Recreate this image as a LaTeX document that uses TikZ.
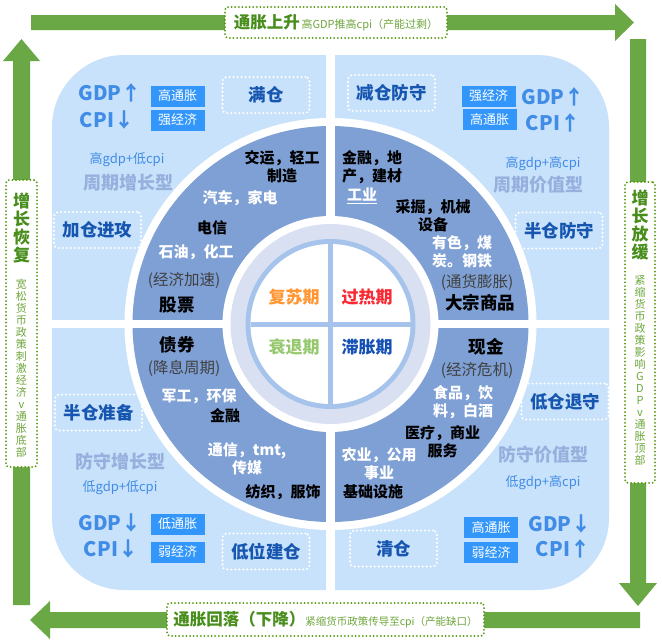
\documentclass[tikz,border=0pt]{standalone}
\usepackage{fontspec}
\setmainfont{Noto Sans CJK SC}
\usetikzlibrary{positioning}
\definecolor{panel}{RGB}{201,226,251}
\definecolor{ring}{RGB}{127,160,213}
\definecolor{lav}{RGB}{216,224,242}
\definecolor{rim}{RGB}{166,196,235}
\definecolor{arrowgreen}{RGB}{106,168,69}
\definecolor{dotgreen}{RGB}{84,150,10}
\definecolor{labgreen}{RGB}{72,142,28}
\definecolor{subgreen}{RGB}{110,166,60}
\definecolor{tagblue}{RGB}{51,150,250}
\definecolor{gdpblue}{RGB}{64,140,230}
\definecolor{posblue}{RGB}{22,86,176}
\definecolor{styleblue}{RGB}{150,176,222}
\definecolor{recov}{RGB}{255,150,50}
\definecolor{overheat}{RGB}{250,40,50}
\definecolor{recess}{RGB}{150,200,110}
\definecolor{stagf}{RGB}{20,80,180}

\begin{document}
\begin{tikzpicture}[x=1pt,y=-1pt,
    dotbox/.style={draw=white,line width=2.4pt,dash pattern=on 0pt off 4pt,line cap=round,
        rounded corners=4pt,minimum width=87,minimum height=36,inner sep=0pt,
        font=\fontsize{17.5}{18}\selectfont\bfseries,text=posblue},
    greenbox/.style={draw=dotgreen,fill=white,line width=2pt,dash pattern=on 0pt off 3.6pt,
        line cap=round,rounded corners=3pt,inner sep=0pt},
    tag/.style={fill=tagblue,text=white,minimum width=54,minimum height=21,inner sep=0pt,
        font=\fontsize{13}{14}\selectfont},
    gdp/.style={text=gdpblue,font=\fontsize{20}{21}\selectfont\bfseries,inner sep=0pt},
    kind/.style={text=styleblue,font=\fontsize{18}{19}\selectfont\bfseries,inner sep=0pt},
    mix/.style={text=gdpblue,font=\fontsize{13}{14}\selectfont,inner sep=0pt},
    sect/.style={font=\fontsize{15}{18}\selectfont\bfseries,inner sep=0pt},
    dk/.style={sect,text=black},
    wt/.style={sect,text=white},
    note/.style={font=\fontsize{15.5}{17}\selectfont,text=black!75,inner sep=0pt},
    asset/.style={font=\fontsize{17.5}{19}\selectfont\bfseries,text=black,inner sep=0pt},
    phase/.style={font=\fontsize{17}{18}\selectfont\bfseries,inner sep=0pt},
    bigv/.style={align=center,inner sep=0pt,text=labgreen,font=\fontsize{17}{18}\selectfont\bfseries},
    smallv/.style={align=center,inner sep=0pt,text=subgreen,font=\fontsize{11}{12}\selectfont}]
\useasboundingbox (0,0) rectangle (662,643);

% Cycle arrows
\fill[arrowgreen] (31,15) -- (615,15) -- (615,4) -- (634,22.5) -- (615,41) -- (615,30) -- (31,30) -- cycle;
\fill[arrowgreen] (630,39) -- (646,39) -- (646,583) -- (657,583) -- (638,606) -- (619,583) -- (630,583) -- cycle;
\fill[arrowgreen] (640,612) -- (640,628) -- (50,628) -- (50,639) -- (30,620) -- (50,601) -- (50,612) -- cycle;
\fill[arrowgreen] (13,605) -- (30,605) -- (30,61) -- (40,61) -- (21.5,39) -- (3,61) -- (13,61) -- cycle;

% Panel and rings
\coordinate (o) at (330.5,324);
\fill[panel,rounded corners=72pt] (52,55) rectangle (609,590);
\fill[white] (o) circle[radius=206];
\fill[ring] (o) circle[radius=198];
\fill[white] (326,50) rectangle (335,600);
\fill[white] (45,320) rectangle (615,328);
\fill[white] (o) circle[radius=108];
\fill[lav] (o) circle[radius=100];
\fill[rim] (o) circle[radius=85];
\fill[white] (o) circle[radius=80];
\draw[rim,line width=5pt] (330.5,244) -- (330.5,404);
\draw[rim,line width=5pt] (250.5,324) -- (410.5,324);

% Phases
\node[phase,text=recov] (recovery) at (294,297) {复苏期};
\node[phase,text=overheat] (overheat) at (367,297) {过热期};
\node[phase,text=recess] (recession) at (294,347) {衰退期};
\node[phase,text=stagf] (stagflation) at (367,347) {滞胀期};

% Recovery quadrant
\node[gdp] (tlgdp) at (110,93) {GDP↑};
\node[gdp] (tlcpi) at (107,120) {CPI↓};
\node[tag] (tltagA) at (177.5,96) {高通胀};
\node[tag] (tltagB) at (177.5,120) {强经济};
\node[dotbox] (tlfull) at (266,95) {满仓};
\node[mix] (tlmix) at (127,160) {高gdp+低cpi};
\node[kind] (tlkind) at (128,183) {周期增长型};
\node[dotbox] (tladd) at (97.5,230) {加仓进攻};
\node[dk,align=center] (tlA) at (282,166.5) {交运，轻工\\制造};
\node[wt] (tlB) at (240,198) {汽车，家电};
\node[dk] (tlC) at (212,228) {电信};
\node[wt] (tlD) at (196,252) {石油，化工};
\node[note] (tlnote) at (184,280) {(经济加速)};
\node[asset] (stocks) at (177,305) {股票};

% Overheat quadrant
\node[dotbox] (trcut) at (391.5,93) {减仓防守};
\node[tag] (trtagA) at (488.5,96) {强经济};
\node[tag] (trtagB) at (489.5,119.5) {高通胀};
\node[gdp] (trgdp) at (553,97) {GDP↑};
\node[gdp] (trcpi) at (553,123) {CPI↑};
\node[mix] (trmix) at (543,164) {高gdp+高cpi};
\node[kind] (trkind) at (538,185) {周期价值型};
\node[dotbox] (trhalf) at (559,230.5) {半仓防守};
\node[dk,align=left,anchor=west] (trA) at (342,167.5) {金融，地\\产，建材};
\node[wt] (trB) at (362,196) {\underline{工业}};
\node[dk,align=center] (trC) at (433,215.5) {采掘，机械\\设备};
\node[wt,align=left,anchor=west] (trD) at (432,251.5) {有色，煤\\炭。钢铁};
\node[note] (trnote) at (477,282) {(通货膨胀)};
\node[asset] (commod) at (480,303) {大宗商品};

% Recession quadrant
\node[asset] (bonds) at (177,345) {债券};
\node[note] (blnote) at (184,368) {(降息周期)};
\node[wt] (blA) at (199,396) {军工，环保};
\node[dk] (blB) at (225,416) {金融};
\node[wt,align=center] (blC) at (247,459) {通信，tmt,\\传媒};
\node[dk] (blD) at (283,492) {纺织，服饰};
\node[dotbox] (blhalf) at (98.5,412.5) {半仓准备};
\node[kind] (blkind) at (120,462) {防守增长型};
\node[mix] (blmix) at (120,488) {低gdp+低cpi};
\node[gdp] (blgdp) at (110,523) {GDP↓};
\node[gdp] (blcpi) at (111,549) {CPI↓};
\node[tag] (bltagA) at (177.5,524) {低通胀};
\node[tag] (bltagB) at (177.5,552) {弱经济};
\node[dotbox] (bllow) at (266,551.5) {低位建仓};

% Stagflation quadrant
\node[asset] (cash) at (486,347) {现金};
\node[note] (brnote) at (477,370) {(经济危机)};
\node[wt,align=left,anchor=west] (brA) at (433,402.5) {食品，饮\\料，白酒};
\node[dk,align=center] (brB) at (442.5,441.5) {医疗，商业\\服务};
\node[wt,align=center] (brC) at (379,464) {农业，公用\\事业};
\node[dk] (brD) at (373,492) {基础设施};
\node[dotbox] (brlow) at (565,401.5) {低仓退守};
\node[kind] (brkind) at (543,455) {防守价值型};
\node[mix] (brmix) at (543,483) {低gdp+高cpi};
\node[gdp] (brgdp) at (560,524) {GDP↓};
\node[gdp] (brcpi) at (563,549) {CPI↑};
\node[tag] (brtagA) at (491,527.5) {高通胀};
\node[tag] (brtagB) at (491,552.5) {弱经济};
\node[dotbox] (brclear) at (393.5,548.5) {清仓};

% Arrow labels
\node[greenbox,minimum width=222,minimum height=31] (upbox) at (336,22.5)
    {{\fontsize{16.5}{17}\selectfont\bfseries\color{labgreen}通胀上升}\,{\fontsize{11}{12}\selectfont\color{subgreen}高GDP推高cpi（产能过剩）}};
\node[greenbox,minimum width=317,minimum height=33] (downbox) at (325.5,619.5)
    {{\fontsize{16.5}{17}\selectfont\bfseries\color{labgreen}通胀回落（下降）}{\fontsize{10.5}{12}\selectfont\color{subgreen}紧缩货币政策传导至cpi（产能缺口）}};
\node[greenbox,minimum width=31,minimum height=287] (leftbox) at (21.5,323.5) {};
\node[bigv] (lefttitle) at (21.5,228) {增\\长\\恢\\复};
\node[smallv] (leftnote) at (21.5,368.5) {宽\\松\\货\\币\\政\\策\\刺\\激\\经\\济\\v\\通\\胀\\底\\部};
\node[greenbox,minimum width=30,minimum height=301] (rightbox) at (640,332.5) {};
\node[bigv] (righttitle) at (640,225) {增\\长\\放\\缓};
\node[smallv] (rightnote) at (640,370.5) {紧\\缩\\货\\币\\政\\策\\影\\响\\G\\D\\P\\v\\通\\胀\\顶\\部};
\end{tikzpicture}
\end{document}
